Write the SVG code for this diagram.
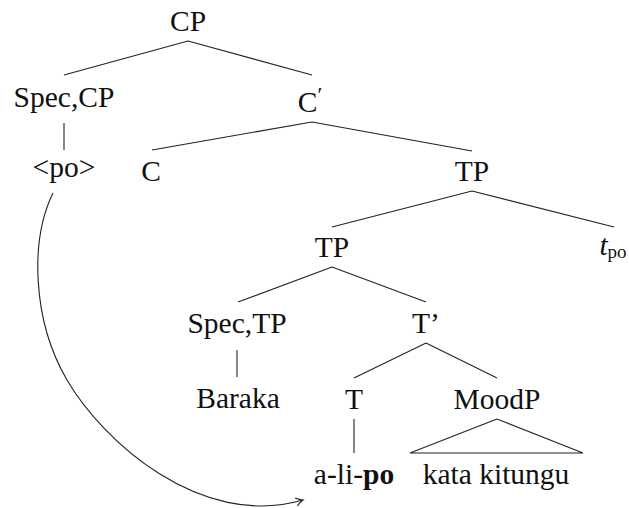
<svg xmlns="http://www.w3.org/2000/svg" width="629" height="508" viewBox="0 0 629 508">
<style>
  text { font-family: "Liberation Serif", "Times New Roman", serif; font-size: 29.5px; fill: #111; text-anchor: middle; }
  .edge { stroke: #222; stroke-width: 1.1; fill: none; }
  .b { font-weight: bold; }
</style>
<defs>
  <marker id="arr" markerUnits="userSpaceOnUse" markerWidth="14" markerHeight="14" refX="0" refY="0" viewBox="-8 -6 10 12" orient="auto">
    <path d="M-6,-3.5 Q-3,-1 0,0 Q-3,1 -6,3.5" fill="none" stroke="#222" stroke-width="1"/>
  </marker>
</defs>
<rect width="629" height="508" fill="#fff"/>
<g id="connectors">
  <path class="edge" d="M188,41 L64,75 M188,41 L312,75"/>
  <path class="edge" d="M64,123 L64,150"/>
  <path class="edge" d="M312,122 L152,150 M312,122 L472,151"/>
  <path class="edge" d="M472,191 L332,227 M472,191 L614,227"/>
  <path class="edge" d="M332,267 L238,302 M332,267 L426,302"/>
  <path class="edge" d="M237,350 L237,377"/>
  <path class="edge" d="M426,343 L354,378 M426,343 L497,378"/>
  <path class="edge" d="M354,419 L354,453"/>
  <path class="edge" d="M497,419 L410,453 L583,453 Z"/>
  <path class="edge" d="M53,193 C30,240 32,320 67,380 C102,440 200,530 303,500" marker-end="url(#arr)"/>
</g>
<g id="n-cp"><text x="188" y="31">CP</text></g>
<g id="n-speccp"><text x="64" y="107">Spec,CP</text></g>
<g id="n-cbar"><text x="310" y="112">C<tspan font-size="22" dy="-10">′</tspan></text></g>
<g id="n-po"><text x="64" y="177">&lt;po&gt;</text></g>
<g id="n-c"><text x="151" y="181">C</text></g>
<g id="n-tp1"><text x="472" y="181">TP</text></g>
<g id="n-tp2"><text x="332" y="257">TP</text></g>
<g id="n-tpo"><text x="613" y="255"><tspan font-style="italic">t</tspan><tspan font-size="19" dy="3">po</tspan></text></g>
<g id="n-spectp"><text x="237" y="333">Spec,TP</text></g>
<g id="n-tbar"><text x="426" y="333">T’</text></g>
<g id="n-baraka"><text x="238" y="408">Baraka</text></g>
<g id="n-t"><text x="354" y="409">T</text></g>
<g id="n-moodp"><text x="497" y="409">MoodP</text></g>
<g id="n-alipo"><text x="354" y="484">a-li-<tspan class="b">po</tspan></text></g>
<g id="n-kata"><text x="496" y="484">kata kitungu</text></g>
</svg>
